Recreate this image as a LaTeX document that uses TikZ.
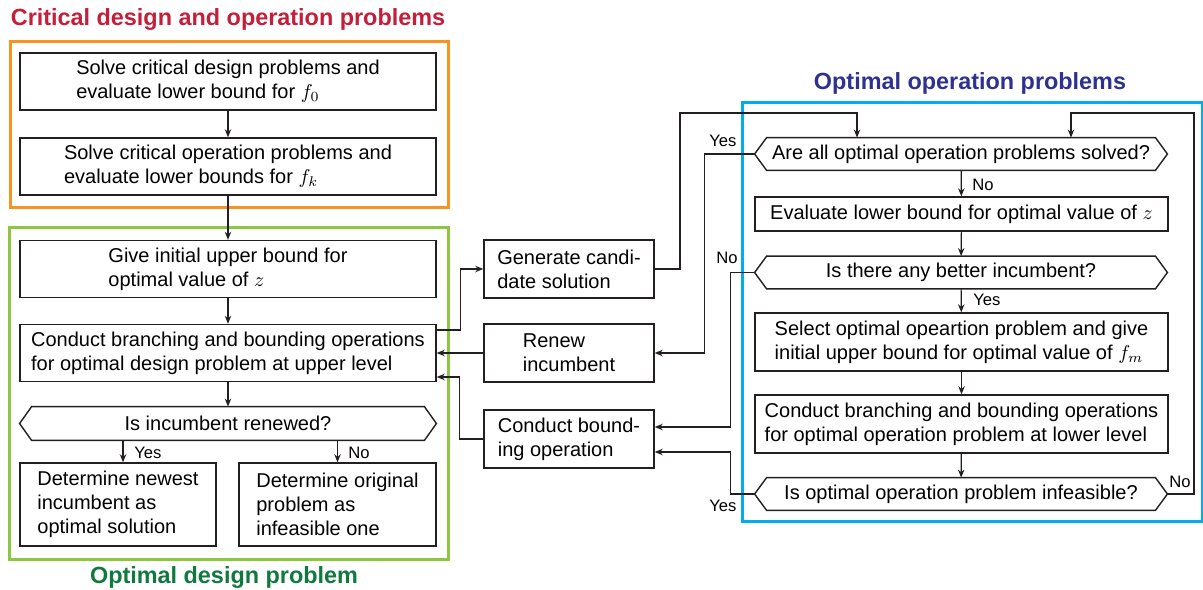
\documentclass[tikz,border=0pt]{standalone}
\usepackage{fontspec}
\setmainfont{Liberation Sans}
\usetikzlibrary{arrows.meta}

\definecolor{critred}{RGB}{196,30,58}
\definecolor{critorange}{RGB}{247,148,30}
\definecolor{desgreen}{RGB}{141,198,63}
\definecolor{desdark}{RGB}{16,122,62}
\definecolor{opblue}{RGB}{0,174,239}
\definecolor{opdark}{RGB}{46,49,146}
\definecolor{ink}{RGB}{35,31,32}

\tikzset{
  box/.style={draw=ink, line width=0.7pt, inner sep=0pt, align=left,
    font=\fontsize{10}{12}\selectfont},
  wbox/.style={box, minimum width=208pt, minimum height=28.5pt},
  mbox/.style={box, minimum width=85pt, minimum height=29pt},
  rbox/.style={box, minimum width=206.5pt, minimum height=29pt},
  hexa/.style={inner sep=0pt, font=\fontsize{10}{12}\selectfont},
  lbl/.style={inner sep=0pt, anchor=west, font=\fontsize{8.3}{10}\selectfont},
  ttl/.style={inner sep=0pt, font=\fontsize{11.7}{14}\selectfont\bfseries},
  frame/.style={line width=1.5pt},
  arr/.style={draw=ink, line width=0.6pt, -{Stealth[length=4pt,width=3.2pt]}}
}

\begin{document}
\begin{tikzpicture}[x=0.5pt, y=-0.5pt]
\useasboundingbox (0,0) rectangle (1203,589);

% region frames and titles
\draw[frame, critorange] (10,41) rectangle (448,207);
\draw[frame, desgreen] (9,227) rectangle (448,559);
\draw[frame, opblue] (742,102) rectangle (1202,521);
\node[ttl, critred] (ttlcrit) at (228,20) {Critical design and operation problems};
\node[ttl, desdark] (ttldes) at (224,577) {Optimal design problem};
\node[ttl, opdark] (ttlop) at (970,83) {Optimal operation problems};

% critical problems
\node[wbox] (crdes) at (228,81.5) {Solve critical design problems and\\evaluate lower bound for $f_0$};
\node[wbox] (crop) at (228,166.5) {Solve critical operation problems and\\evaluate lower bounds for $f_k$};

% optimal design problem
\node[wbox] (initz) at (228,269) {Give initial upper bound for\\optimal value of $z$};
\node[wbox] (upper) at (228,353) {Conduct branching and bounding operations\\for optimal design problem at upper level};
\node[hexa, minimum width=208pt, minimum height=16.5pt] (renewed) at (228,423.5) {Is incumbent renewed?};
\node[box, minimum width=98pt, minimum height=41.5pt] (newest) at (118,504.5) {Determine newest\\incumbent as\\optimal solution};
\node[box, minimum width=98.5pt, minimum height=41.5pt] (infeas) at (337.5,504.5) {Determine original\\problem as\\infeasible one};

% middle column
\node[mbox] (cand) at (569,269) {Generate candi-\\date solution};
\node[mbox] (renew) at (569,353) {Renew\\incumbent};
\node[mbox] (bound) at (569,439) {Conduct bound-\\ing operation};

% optimal operation problems
\node[hexa, minimum width=206pt, minimum height=16pt] (allsolved) at (961,154) {Are all optimal operation problems solved?};
\node[rbox, minimum height=17pt] (evalz) at (961.5,214) {Evaluate lower bound for optimal value of $z$};
\node[hexa, minimum width=206pt, minimum height=16pt] (better) at (961,272.5) {Is there any better incumbent?};
\node[rbox] (select) at (961.5,342) {Select optimal opeartion problem and give\\initial upper bound for optimal value of $f_m$};
\node[rbox] (lower) at (961.5,424) {Conduct branching and bounding operations\\for optimal operation problem at lower level};
\node[hexa, minimum width=206pt, minimum height=16pt] (opinf) at (961,494) {Is optimal operation problem infeasible?};

% hexagon outlines
\foreach \n in {renewed, allsolved, better, opinf}
  \draw[ink, line width=0.7pt] ([xshift=6pt]\n.north west) -- ([xshift=-6pt]\n.north east)
    -- (\n.east) -- ([xshift=-6pt]\n.south east) -- ([xshift=6pt]\n.south west)
    -- (\n.west) -- cycle;

\coordinate (topL) at (680,113);
\coordinate (topR) at (1194,113);

% left column flow
\draw[arr] (crdes) -- (crop);
\draw[arr] (crop) -- (initz);
\draw[arr] (initz) -- (upper);
\draw[arr] (upper) -- (renewed);
\draw[arr] ([xshift=2.5pt]renewed.south -| newest.north) -- ([xshift=2.5pt]newest.north);
\draw[arr] (renewed.south -| infeas.north) -- (infeas.north);
\node[lbl] (yesnew) at (134,453) {Yes};
\node[lbl] (noinf) at (348,453) {No};

% between levels
\draw[arr] ([yshift=11.5pt]upper.east) -- ++(24,0) |- (cand.west);
\draw[arr] (renew.west) -- (upper.east);
\draw[arr] (bound.west) -- ++(-24,0) |- ([yshift=-12pt]upper.east);
\draw[arr] (cand.east) -| (topL) -| ([xshift=-52pt]allsolved.north);
\draw[arr] (allsolved.west) -- ++(-50,0) |- (renew.east);
\draw[arr] (better.west) -- ++(-24,0) |- ([yshift=6pt]bound.east);
\draw[arr] (opinf.west) -- ++(-24,0) |- ([yshift=-6.5pt]bound.east);
\draw[arr] (opinf.east) -| (topR) -| ([xshift=55pt]allsolved.north);
\node[lbl] (yesall) at (709,141) {Yes};
\node[lbl] (nobetter) at (716,258) {No};
\node[lbl] (yesinf) at (709,506) {Yes};
\node[lbl] (noinfr) at (1169,482) {No};

% right column flow
\draw[arr] (allsolved) -- (evalz);
\draw[arr] (evalz) -- (better);
\draw[arr] (better) -- (select);
\draw[arr] (select) -- (lower);
\draw[arr] (lower) -- (opinf);
\node[lbl] (noall) at (972,185) {No};
\node[lbl] (yesbetter) at (973,300) {Yes};
\end{tikzpicture}
\end{document}
